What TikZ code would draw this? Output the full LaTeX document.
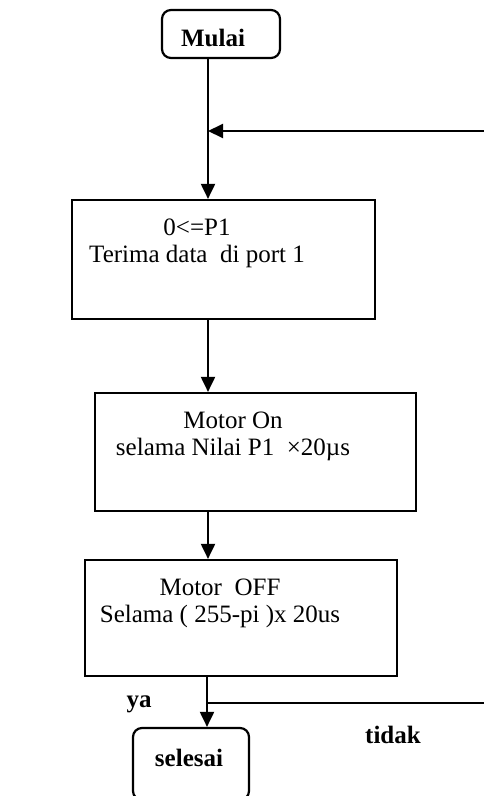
\documentclass[tikz,border=0pt]{standalone}
\usepackage{fontspec}
\setmainfont{Liberation Serif}
\usetikzlibrary{arrows.meta}
\tikzset{
  procbox/.style={draw, line width=2.2pt, rectangle, inner sep=0pt},
  termbox/.style={draw, line width=2.2pt, rectangle, rounded corners=9pt, inner sep=0pt},
  txt/.style={align=center, inner sep=0pt, font=\fontsize{25}{27}\selectfont},
  btxt/.style={align=center, inner sep=0pt, font=\fontsize{25}{27}\selectfont\bfseries},
  flow/.style={line width=2pt, -{Triangle[length=15pt,width=14pt]}},
  plain/.style={line width=1.8pt}
}
\begin{document}
\begin{tikzpicture}[x=1pt,y=-1pt]
\useasboundingbox (0,0) rectangle (484,796);
% boxes
\node[termbox, minimum width=118pt, minimum height=48pt] (mulai) at (221,34) {};
\node[btxt] (tmulai) at (213,38) {Mulai};
\node[procbox, minimum width=303pt, minimum height=119pt] (b1) at (223.5,259.5) {};
\node[txt] (t1) at (197,243) {0<=P1\\Terima data~ di port 1};
\node[procbox, minimum width=321pt, minimum height=118pt] (b2) at (255.5,452) {};
\node[txt] (t2) at (233,436) {Motor On\\selama Nilai P1~ ×20µs};
\node[procbox, minimum width=312pt, minimum height=116pt] (b3) at (241,618) {};
\node[txt] (t3) at (220,603) {Motor~ OFF\\Selama ( 255-pi )x 20us};
\node[termbox, minimum width=116pt, minimum height=72pt] (sel) at (191,764) {};
\node[btxt] (tsel) at (189,758) {selesai};
\node[btxt] (ya) at (139,704) {ya};
\node[btxt] (tidak) at (393,735) {tidak};
% coordinates
\coordinate (lx) at (208,0);
\coordinate (join) at (208,131);
\coordinate (fbin) at (484,131);
\coordinate (split) at (207,703);
\coordinate (nout) at (484,703);
% connectors
\draw[plain] (mulai.south -| lx) -- (join);
\draw[flow] (join) -- (b1.north -| lx);
\draw[flow] (fbin) -- (join);
\draw[flow] (b1.south -| lx) -- (b2.north -| lx);
\draw[flow] (b2.south -| lx) -- (b3.north -| lx);
\draw[flow] (b3.south -| split) -- (sel.north -| split);
\draw[plain] (split) -- (nout);
\end{tikzpicture}
\end{document}
